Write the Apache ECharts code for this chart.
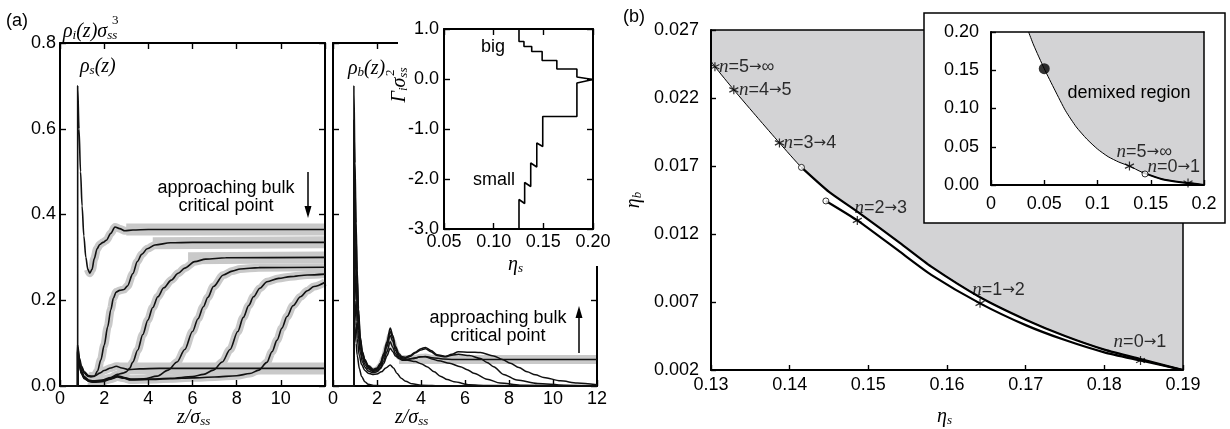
<!DOCTYPE html>
<html>
<head>
<meta charset="utf-8">
<title>profiles and wetting diagram</title>
<script src="https://cdn.jsdelivr.net/npm/echarts@6.0.0/dist/echarts.min.js"></script>
<style>
  html, body { margin: 0; padding: 0; background: #fff; }
  #chart { width: 1230px; height: 429px; }
</style>
</head>
<body>
<div id="chart"></div>
<script>
// (a) left: small-sphere profiles rho_s(z)  [z/sigma_ss, rho_s*sigma^3]
var rhoS1 = [[0,0],[0.8,0],[0.8,0.70],[0.86,0.60],[0.93,0.50],[1.0,0.42],[1.08,0.35],[1.17,0.30],[1.26,0.272],[1.35,0.263],[1.45,0.272],[1.55,0.297],[1.68,0.32],[1.8,0.33],[1.95,0.335],[2.1,0.34],[2.3,0.356],[2.49,0.371],[2.7,0.367],[2.94,0.362],[3.3,0.364],[4.0,0.365],[12,0.365]];
var rhoS2 = [[0,0],[0.8,0],[0.8,0.095],[0.88,0.065],[0.97,0.047],[1.1,0.033],[1.3,0.024],[1.55,0.022],[1.7,0.035],[1.85,0.061],[2.0,0.095],[2.16,0.138],[2.3,0.178],[2.42,0.205],[2.54,0.219],[2.7,0.223],[2.9,0.225],[3.05,0.233],[3.3,0.262],[3.5,0.29],[3.7,0.307],[3.95,0.32],[4.3,0.329],[5.0,0.334],[6.0,0.335],[12,0.335]];
var rhoS3 = [[0,0],[0.8,0],[0.8,0.085],[0.88,0.055],[0.97,0.036],[1.1,0.022],[1.3,0.014],[1.5,0.012],[1.9,0.014],[2.3,0.02],[2.6,0.027],[2.85,0.03],[3.0,0.033],[3.15,0.041],[3.3,0.056],[3.52,0.084],[3.75,0.12],[3.98,0.154],[4.2,0.183],[4.43,0.208],[4.7,0.229],[5.04,0.247],[5.35,0.263],[5.65,0.275],[6.1,0.29],[6.6,0.296],[7.5,0.299],[12,0.30]];
var rhoS4 = [[0,0],[0.8,0],[0.8,0.082],[0.88,0.05],[0.97,0.032],[1.1,0.02],[1.3,0.012],[1.5,0.01],[1.9,0.012],[2.3,0.018],[2.6,0.024],[2.9,0.02],[3.2,0.016],[3.8,0.017],[4.4,0.023],[4.9,0.037],[5.3,0.056],[5.65,0.085],[6.0,0.127],[6.25,0.157],[6.49,0.185],[6.7,0.207],[6.95,0.232],[7.4,0.259],[7.8,0.268],[8.16,0.273],[9.0,0.276],[12,0.277]];
var rhoS5 = [[0,0],[0.8,0],[0.8,0.08],[0.88,0.048],[0.97,0.03],[1.1,0.018],[1.3,0.011],[1.5,0.009],[1.9,0.011],[2.3,0.017],[2.6,0.022],[2.9,0.019],[3.2,0.015],[4.0,0.016],[5.0,0.018],[6.0,0.022],[6.5,0.027],[6.95,0.037],[7.35,0.056],[7.7,0.085],[8.05,0.127],[8.3,0.16],[8.55,0.188],[8.76,0.208],[9.05,0.228],[9.37,0.243],[9.9,0.251],[10.43,0.255],[11.2,0.259],[12,0.261]];
var rhoS6 = [[0,0],[0.8,0],[0.8,0.078],[0.88,0.046],[0.97,0.029],[1.1,0.017],[1.3,0.011],[1.5,0.009],[1.9,0.01],[2.3,0.016],[2.6,0.021],[2.9,0.018],[3.2,0.014],[4.0,0.015],[5.0,0.017],[6.0,0.019],[7.0,0.021],[8.0,0.024],[8.6,0.029],[9.0,0.037],[9.37,0.055],[9.6,0.08],[9.83,0.107],[10.05,0.135],[10.28,0.162],[10.55,0.187],[10.89,0.208],[11.2,0.222],[11.5,0.232],[12,0.242]];
var rhoS7 = [[0,0],[0.8,0],[0.8,0.09],[0.88,0.06],[0.97,0.042],[1.1,0.03],[1.25,0.023],[1.4,0.021],[1.6,0.024],[1.8,0.03],[2.0,0.036],[2.3,0.042],[2.55,0.046],[2.8,0.042],[3.1,0.038],[3.6,0.04],[4.5,0.041],[12,0.041]];
// simulation plateaus (grey)
var simS1 = [[3.0,0.365],[12,0.365]];
var simS2 = [[4.2,0.333],[12,0.335]];
var simS3 = [[5.8,0.298],[12,0.30]];
var simS7 = [[2.6,0.041],[12,0.041]];

// (a) middle: big-sphere profiles rho_b(z)
var rhoB1 = [[0,0],[0.95,0],[0.95,0.70],[1.0,0.52],[1.05,0.38],[1.1,0.27],[1.16,0.18],[1.24,0.114],[1.34,0.08],[1.45,0.062],[1.6,0.048],[1.82,0.039],[2.0,0.042],[2.15,0.053],[2.3,0.075],[2.45,0.103],[2.6,0.135],[2.72,0.118],[2.84,0.092],[3.0,0.075],[3.15,0.068],[3.3,0.067],[3.5,0.071],[3.74,0.079],[4.0,0.087],[4.2,0.09],[4.45,0.083],[4.73,0.073],[5.1,0.069],[5.4,0.074],[5.7,0.08],[6.2,0.079],[6.7,0.078],[7.3,0.07],[7.7,0.062],[8.06,0.053],[8.45,0.043],[8.82,0.033],[9.2,0.026],[9.58,0.02],[10.34,0.012],[11.1,0.007],[12,0.003]];
var rhoB2 = [[0,0],[0.95,0],[0.95,0.62],[1.0,0.47],[1.05,0.35],[1.1,0.25],[1.16,0.17],[1.24,0.11],[1.34,0.077],[1.45,0.06],[1.6,0.046],[1.82,0.037],[2.0,0.04],[2.15,0.05],[2.3,0.071],[2.45,0.098],[2.6,0.127],[2.72,0.112],[2.84,0.088],[3.0,0.072],[3.15,0.066],[3.3,0.065],[3.5,0.069],[3.74,0.077],[4.0,0.084],[4.2,0.087],[4.45,0.08],[4.73,0.071],[5.1,0.068],[5.4,0.072],[5.7,0.074],[6.2,0.071],[6.7,0.064],[7.0,0.055],[7.3,0.045],[7.75,0.027],[8.36,0.014],[9.3,0.006],[10.5,0.002],[12,0.0005]];
var rhoB3 = [[0,0],[0.95,0],[0.95,0.55],[1.0,0.42],[1.05,0.31],[1.1,0.22],[1.16,0.155],[1.24,0.102],[1.34,0.072],[1.45,0.056],[1.6,0.044],[1.82,0.036],[2.0,0.039],[2.15,0.048],[2.3,0.066],[2.45,0.092],[2.6,0.118],[2.72,0.104],[2.84,0.083],[3.0,0.068],[3.15,0.063],[3.3,0.062],[3.6,0.064],[4.0,0.068],[4.2,0.069],[4.5,0.066],[5.0,0.063],[5.5,0.062],[12,0.062]];
var rhoB4 = [[0,0],[0.95,0],[0.95,0.45],[1.0,0.34],[1.05,0.25],[1.1,0.18],[1.16,0.13],[1.24,0.09],[1.34,0.064],[1.45,0.05],[1.6,0.04],[1.82,0.034],[2.0,0.036],[2.15,0.043],[2.3,0.058],[2.45,0.08],[2.6,0.103],[2.72,0.09],[2.84,0.075],[3.0,0.064],[3.15,0.06],[3.3,0.06],[3.6,0.064],[4.0,0.068],[4.2,0.068],[4.5,0.063],[4.8,0.059],[5.3,0.053],[5.79,0.045],[6.1,0.038],[6.4,0.03],[7.0,0.016],[7.6,0.007],[8.5,0.002],[12,0]];
var rhoB5 = [[0,0],[0.95,0],[0.95,0.35],[1.0,0.27],[1.05,0.2],[1.1,0.15],[1.16,0.11],[1.24,0.078],[1.34,0.056],[1.45,0.044],[1.6,0.035],[1.82,0.031],[2.0,0.033],[2.15,0.04],[2.3,0.052],[2.45,0.07],[2.6,0.088],[2.72,0.08],[2.84,0.07],[3.0,0.065],[3.15,0.063],[3.4,0.06],[3.74,0.057],[4.0,0.052],[4.27,0.045],[4.6,0.033],[4.88,0.023],[5.2,0.015],[5.5,0.01],[6.2,0.003],[7,0.001],[12,0]];
var rhoB6 = [[0,0],[0.95,0],[0.95,0.26],[1.0,0.2],[1.05,0.15],[1.1,0.11],[1.2,0.07],[1.3,0.05],[1.45,0.036],[1.6,0.03],[1.8,0.027],[2.0,0.028],[2.2,0.033],[2.4,0.042],[2.6,0.049],[2.75,0.042],[2.9,0.03],[3.1,0.018],[3.3,0.011],[3.6,0.005],[4.0,0.002],[5,0.0005],[12,0]];
var rhoB7 = [[0,0],[0.95,0],[0.95,0.2],[1.0,0.14],[1.05,0.1],[1.1,0.072],[1.2,0.04],[1.3,0.022],[1.45,0.01],[1.6,0.004],[1.9,0.001],[2.5,0],[12,0]];
var simB3 = [[3.0,0.062],[12,0.062]];

// (a) inset: adsorption Gamma_i vs eta_s
var gamEta = [0.1255,0.1255,0.1312,0.1312,0.1373,0.1373,0.1434,0.1434,0.1494,0.1494,0.1838,0.1838,0.2,0.1838,0.1838,0.1636,0.1636,0.1488,0.1488,0.1383,0.1383,0.1305,0.1305,0.1255,0.1255];
var gamVal = [-3.0,-2.41,-2.49,-2.07,-2.15,-1.68,-1.76,-1.28,-1.35,-0.75,-0.75,-0.08,-0.01,0.04,0.2,0.2,0.37,0.37,0.55,0.55,0.65,0.65,0.75,0.75,1.0];

// (b) binodal and layering transitions
var bndEtaS = [0.130,0.1305,0.1329,0.136,0.1387,0.1415,0.145,0.1486,0.154,0.158,0.1642,0.170,0.175,0.180,0.1846,0.190];
var bndEtaB = [0.0247,0.0243,0.0226,0.0205,0.0187,0.0169,0.0151,0.01365,0.01135,0.0096,0.00735,0.0057,0.0045,0.0035,0.0028,0.0020];
var lowEtaS = [0.1446,0.1486,0.154,0.158,0.1642,0.170,0.175,0.180,0.1846,0.190];
var lowEtaB = [0.01443,0.0130,0.0107,0.0090,0.0069,0.0053,0.0042,0.0033,0.0027,0.0020];
var starEtaS = [0.1305,0.1329,0.1387,0.1486,0.1642,0.1846];
var starEtaB = [0.0243,0.0226,0.0187,0.0130,0.0069,0.0027];
var starText = ['5→∞','4→5','3→4','2→3','1→2','0→1'];
var ringEtaS = [0.1415,0.1446];
var ringEtaB = [0.0169,0.01443];
var yTicksB = [0.002,0.007,0.012,0.017,0.022,0.027];

// (b) inset: full binodal
var insEtaS = [0.0353,0.04,0.05,0.06,0.07,0.08,0.09,0.10,0.11,0.12,0.13,0.1415,0.16,0.18,0.19,0.20];
var insEtaB = [0.200,0.183,0.152,0.124,0.097,0.076,0.060,0.047,0.037,0.030,0.0247,0.0169,0.0079,0.0033,0.002,0.0];
var insStarS = [0.13,0.185];
var insStarB = [0.0247,0.0026];
var insStarText = ['5→∞',''];
var insRingS = [0.1446];
var insRingB = [0.0144];
var critS = [0.05];
var critB = [0.152];

var SANS = 'Liberation Sans';
var SERIF = 'Liberation Serif';
var GRAY = '#c9c9c9';
var AREA = '#d3d3d5';
var STAR = 'path://M0,-5L0,5M-4.33,-2.5L4.33,2.5M-4.33,2.5L4.33,-2.5';

var chart = echarts.init(document.getElementById('chart'));

function zip(a, b) {
    return a.map(function (v, i) { return [v, b[i]]; });
}
// grey simulation shadow skips the contact spike
function body(d, zmin) {
    return d.filter(function (p) { return p[0] >= zmin; });
}

function frame(grid, pos, min, max, step, fmt, o) {
    o = o || {};
    var a = {
        type: 'value', gridIndex: grid, position: pos, min: min, max: max, z: o.z || 3,
        axisLine: {show: true, onZero: false, lineStyle: {color: '#000', width: o.lw || 2}},
        axisTick: {show: o.ticks !== false, inside: true, length: o.tl || 6, lineStyle: {color: '#000', width: 1.4}},
        axisLabel: {show: !!fmt, formatter: fmt, margin: o.margin || 4, color: '#000',
            fontSize: 18, fontFamily: SANS, showMinLabel: true, showMaxLabel: true},
        splitLine: {show: false}
    };
    if (step) a.interval = step;
    if (o.custom) {
        a.axisTick.customValues = o.custom;
        a.axisLabel.customValues = o.custom;
    }
    return a;
}

function line(data, xi, yi, color, width, z, smooth, mono) {
    var s = {
        type: 'line', data: data, xAxisIndex: xi, yAxisIndex: yi, symbol: 'none', silent: true,
        smooth: smooth === undefined ? 0.3 : smooth,
        lineStyle: {color: color, width: width, cap: 'butt'}, z: z
    };
    if (mono !== false) s.smoothMonotone = 'x';
    return s;
}

var LABRICH = {
    i: {fontFamily: SERIF, fontStyle: 'italic', fontSize: 19, color: '#000'},
    t: {fontFamily: SANS, fontSize: 18, color: '#000'},
    a: {fontFamily: 'DejaVu Sans', fontSize: 15, color: '#000'}
};

function stars(xs, ys, texts, offs, xi, yi, z) {
    var data = xs.map(function (x, i) {
        var d = {value: [x, ys[i]]};
        if (texts && texts[i]) {
            var ends = texts[i].split('→');
            d.label = {show: true, formatter: '{i|n}{t|=' + ends[0] + '}{a|→}{t|' + ends[1] + '}', offset: offs[i]};
        }
        return d;
    });
    return {
        type: 'scatter', xAxisIndex: xi, yAxisIndex: yi, z: z, silent: true,
        symbol: STAR, symbolSize: 9,
        itemStyle: {color: 'rgba(0,0,0,0)', borderColor: '#000', borderWidth: 1.2},
        label: {show: false, position: 'right', distance: 1, rich: LABRICH},
        data: data
    };
}

function rings(xs, ys, texts, offs, xi, yi, z) {
    var s = stars(xs, ys, texts, offs, xi, yi, z);
    s.symbol = 'circle';
    s.symbolSize = 6;
    s.itemStyle = {color: '#fff', borderColor: '#000', borderWidth: 1};
    return s;
}

var series = [];
var rhoS = [rhoS1, rhoS2, rhoS3, rhoS4, rhoS5, rhoS6, rhoS7];
var rhoB = [rhoB1, rhoB2, rhoB3, rhoB4, rhoB5, rhoB6, rhoB7];
// panel (a) left
[simS1, simS2, simS3, simS7].forEach(function (d) { series.push(line(d, 0, 0, GRAY, 12, 1, false)); });
rhoS.forEach(function (d) { series.push(line(body(d, 1.2), 0, 0, GRAY, 8, 1)); });
rhoS.forEach(function (d) { series.push(line(d, 0, 0, '#111', 1.6, 4)); });
// panel (a) middle
series.push(line(simB3, 2, 2, GRAY, 9, 1, false));
series.push(line(body(rhoB3, 1.6), 2, 2, GRAY, 6, 1));
rhoB.forEach(function (d) { series.push(line(d, 2, 2, '#111', 1.5, 4)); });
// inset (a)
series.push(line(zip(gamEta, gamVal), 4, 4, '#000', 1.6, 13, false));
// panel (b)
var bnd = zip(bndEtaS, bndEtaB);
var bndArea = line(bnd, 6, 6, '#000', 1, 2, 0.2, false);
bndArea.areaStyle = {color: AREA, origin: 'end', opacity: 1};
series.push(bndArea);
series.push(line(bnd.slice(5), 6, 6, '#000', 2.2, 4, 0.2, false));
series.push(line(zip(lowEtaS, lowEtaB), 6, 6, '#000', 2.2, 4, 0.2, false));
series.push(stars(starEtaS, starEtaB, starText, [[-2,0],[-1,0],[-2,0],[-9,-12],[-14,-13],[-33,-18]], 6, 6, 5));
series.push(rings(ringEtaS, ringEtaB, null, null, 6, 6, 6));
// inset (b)
var ins = zip(insEtaS, insEtaB);
var insArea = line(ins, 8, 8, '#000', 1, 12, 0.2, false);
insArea.areaStyle = {color: AREA, origin: 'end', opacity: 1};
series.push(insArea);
series.push(line(ins.slice(11), 8, 8, '#000', 2, 13, 0.2, false));
series.push(stars(insStarS, insStarB, insStarText, [[-19,-14],[0,0]], 8, 8, 14));
series.push(rings(insRingS, insRingB, ['0→1'], [[-2,-7]], 8, 8, 14));
series.push({
    type: 'scatter', xAxisIndex: 8, yAxisIndex: 8, z: 15, silent: true,
    symbol: 'circle', symbolSize: 11, itemStyle: {color: '#000'},
    data: zip(critS, critB)
});

var RICH = {
    m: {fontFamily: SERIF, fontStyle: 'italic', fontSize: 20, lineHeight: 22, verticalAlign: 'bottom', color: '#000'},
    s: {fontFamily: SERIF, fontStyle: 'italic', fontSize: 13, lineHeight: 8, verticalAlign: 'bottom', color: '#000'}
};

function rtext(x, y, text, align, rot) {
    return {type: 'text', x: x, y: y, z: 20, rotation: rot || 0,
        style: {text: text, rich: RICH, align: align || 'left', verticalAlign: 'middle', fill: '#000'}};
}
function ptext(x, y, text, align, size, family) {
    return {type: 'text', x: x, y: y, z: 20,
        style: {text: text, fill: '#000', fontSize: size || 18, fontFamily: family || SANS,
            align: align || 'left', verticalAlign: 'middle', lineHeight: 18}};
}

var graphics = [
    {type: 'rect', z: 8, shape: {x: 398, y: 0, width: 214, height: 266}, style: {fill: '#fff'}},
    {type: 'rect', z: 8, shape: {x: 924, y: 13, width: 301, height: 210}, style: {fill: '#fff', stroke: '#000', lineWidth: 1.5}},
    ptext(6, 21, '(a)'),
    ptext(623, 17, '(b)'),
    rtext(63, 31, '{m|ρ}{s|i}{m|(z)σ}{s|ss}'),
    ptext(112, 21, '3', 'left', 13, SERIF),
    rtext(80, 66, '{m|ρ}{s|s}{m|(z)}'),
    rtext(348, 68, '{m|ρ}{s|b}{m|(z)}'),
    rtext(177, 417, '{m|z/σ}{s|ss}'),
    rtext(395, 417, '{m|z/σ}{s|ss}'),
    {type: 'group', x: 399, y: 85, rotation: Math.PI / 2, children: [
        rtext(0, 0, '{m|Γ}{s|i}{m|σ}{s|ss}', 'center'),
        ptext(9, -8, '2', 'left', 13, SERIF)
    ]},
    rtext(508, 264, '{m|η}{s|s}'),
    rtext(633, 200, '{m|η}{s|b}', 'center', Math.PI / 2),
    rtext(937, 416, '{m|η}{s|s}'),
    ptext(226, 197, 'approaching bulk\ncritical point', 'center'),
    ptext(498, 327, 'approaching bulk\ncritical point', 'center'),
    ptext(493, 47, 'big', 'center'),
    ptext(494, 180, 'small', 'center'),
    ptext(1129, 93, 'demixed region', 'center'),
    {type: 'line', z: 20, shape: {x1: 308, y1: 172, x2: 308, y2: 209}, style: {stroke: '#000', lineWidth: 1.5}},
    {type: 'polygon', z: 20, shape: {points: [[304.5, 206], [311.5, 206], [308, 218]]}, style: {fill: '#000'}},
    {type: 'line', z: 20, shape: {x1: 579, y1: 353, x2: 579, y2: 316}, style: {stroke: '#000', lineWidth: 1.5}},
    {type: 'polygon', z: 20, shape: {points: [[575.5, 318], [582.5, 318], [579, 306]]}, style: {fill: '#000'}}
];

var fmt1 = function (v) { return v.toFixed(1); };
var fmt2 = function (v) { return v.toFixed(2); };
var fmt3 = function (v) { return v.toFixed(3); };
var fmtInt = function (v) { return String(v); };
var fmtLeft = function (v) { return v === 12 ? '' : String(v); };
var fmtIns = function (v) { return v === 0 ? '0' : String(parseFloat(v.toFixed(2))); };

var option = {
    animation: false,
    backgroundColor: '#fff',
    grid: [
        {left: 60, top: 43, width: 265, height: 343},
        {left: 333, top: 43, width: 264, height: 343},
        {left: 444, top: 29, width: 149, height: 200, z: 10},
        {left: 711, top: 30, width: 472, height: 340},
        {left: 991, top: 32, width: 213, height: 153, z: 10}
    ],
    xAxis: [
        frame(0, 'bottom', 0, 12, 2, fmtLeft),
        frame(0, 'top', 0, 12, 2, null),
        frame(1, 'bottom', 0, 12, 2, fmtInt),
        frame(1, 'top', 0, 12, 2, null),
        frame(2, 'bottom', 0.05, 0.2, 0.05, fmt2, {z: 12}),
        frame(2, 'top', 0.05, 0.2, 0.05, null, {z: 12}),
        frame(3, 'bottom', 0.13, 0.19, 0.01, fmt2, {margin: 6, tl: 5}),
        frame(3, 'top', 0.13, 0.19, 0.01, null, {ticks: false, lw: 1.5}),
        frame(4, 'bottom', 0, 0.2, 0.05, fmtIns, {z: 12, margin: 10, tl: 5}),
        frame(4, 'top', 0, 0.2, 0.05, null, {z: 12, ticks: false, lw: 1.5})
    ],
    yAxis: [
        frame(0, 'left', 0, 0.8, 0.2, fmt1),
        frame(0, 'right', 0, 0.8, 0.2, null),
        frame(1, 'left', 0, 0.8, 0.2, null),
        frame(1, 'right', 0, 0.8, 0.2, null),
        frame(2, 'left', -3, 1, 1, fmt1, {z: 12, margin: 5}),
        frame(2, 'right', -3, 1, 1, null, {z: 12}),
        frame(3, 'left', 0.002, 0.027, null, fmt3, {custom: yTicksB, margin: 12, tl: 5}),
        frame(3, 'right', 0.002, 0.027, null, null, {ticks: false, lw: 1.5}),
        frame(4, 'left', 0, 0.2, 0.05, fmt2, {z: 12, margin: 12, tl: 5}),
        frame(4, 'right', 0, 0.2, 0.05, null, {z: 12, ticks: false, lw: 1.5})
    ],
    series: series,
    graphic: {elements: graphics}
};

chart.setOption(option);
</script>
</body>
</html>
